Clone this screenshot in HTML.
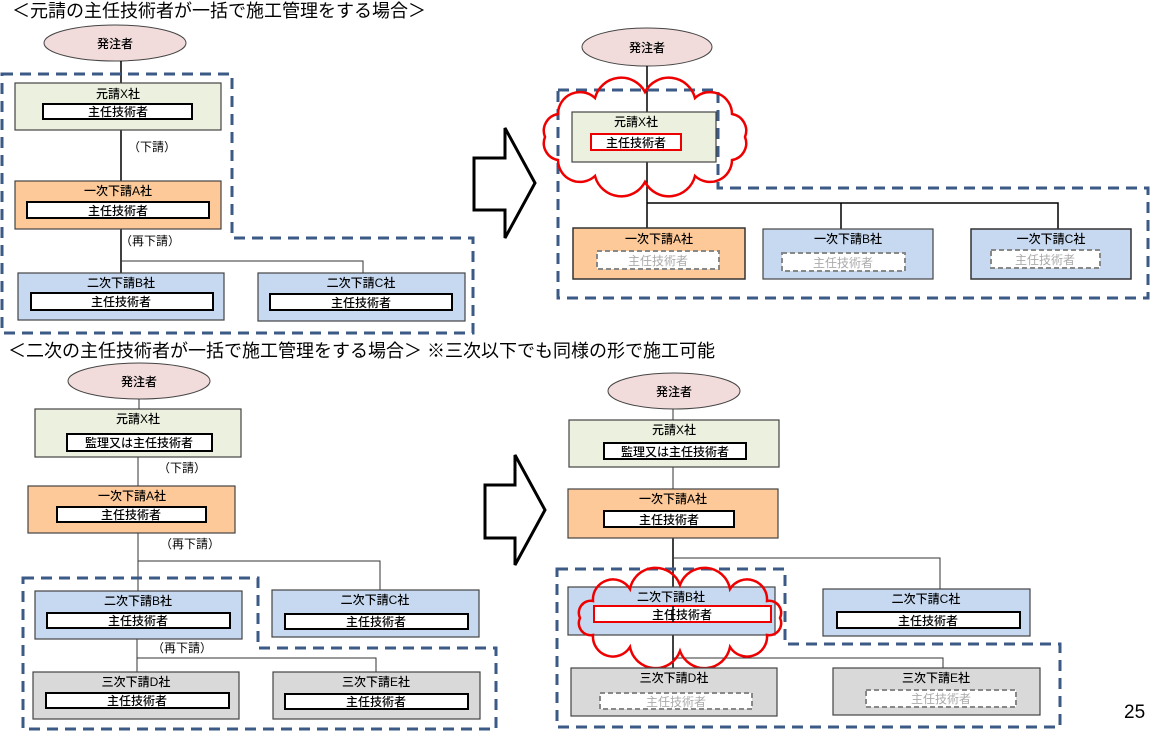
<!DOCTYPE html>
<html><head><meta charset="utf-8"><style>
body{margin:0;background:#fff}
svg{display:block}
text{font-family:"Liberation Sans","Noto Sans CJK JP",sans-serif;fill:#000}
.t{font-size:12px;text-anchor:middle;font-weight:500}
.h{font-size:18px}
.ln{stroke:#000;stroke-width:1.5;fill:none}
.ln2{stroke:#333;stroke-width:1;fill:none}
.dash{stroke:#3b5a86;stroke-width:3;stroke-dasharray:11 7;fill:none}
.bx{stroke:#444;stroke-width:1.2}
.in{fill:#fff;stroke:#000;stroke-width:2}
.gin{fill:#fff;stroke:#888;stroke-width:2;stroke-dasharray:5 3}
.gt{font-size:12px;text-anchor:middle;fill:#aaa}
.cl{fill:none;stroke:#e00;stroke-width:2.5}
</style></head><body>
<svg width="1152" height="738" viewBox="0 0 1152 738">
<!-- titles -->
<text x="12" y="17" class="h">＜元請の主任技術者が一括で施工管理をする場合＞</text>
<text x="8" y="357" class="h">＜二次の主任技術者が一括で施工管理をする場合＞ ※三次以下でも同様の形で施工可能</text>
<text x="1124" y="718" style="font-size:19px">25</text>

<!-- ===== Top-left ===== -->
<ellipse cx="115" cy="43" rx="71" ry="18" fill="#f2dcdb" stroke="#444"/>
<text x="115" y="48" class="t">発注者</text>
<path class="ln" d="M121 61V83M121 130V181M121 229V273"/>
<path class="ln2" d="M121 261H363V273"/>
<path class="dash" d="M2 74H232V238H473V333H2Z"/>
<rect x="15" y="83" width="206" height="47" fill="#ebf1de" class="bx"/>
<text x="118" y="98" class="t">元請X社</text>
<rect x="43" y="104" width="149" height="15" class="in"/><text x="118" y="116" class="t">主任技術者</text>
<text x="128" y="151" style="font-size:12px">（下請）</text>
<rect x="15" y="181" width="206" height="48" fill="#fdc998" class="bx"/>
<text x="118" y="195" class="t">一次下請A社</text>
<rect x="27" y="202" width="182" height="16" class="in"/><text x="118" y="215" class="t">主任技術者</text>
<text x="120" y="245" style="font-size:12px">（再下請）</text>
<rect x="18" y="273" width="206" height="47" fill="#c6d9f1" class="bx"/>
<text x="121" y="287" class="t">二次下請B社</text>
<rect x="31" y="293" width="182" height="17" class="in"/><text x="121" y="306" class="t">主任技術者</text>
<rect x="258" y="273" width="207" height="48" fill="#c6d9f1" class="bx"/>
<text x="361" y="287" class="t">二次下請C社</text>
<rect x="270" y="294" width="182" height="16" class="in"/><text x="361" y="307" class="t">主任技術者</text>

<!-- arrows -->
<path d="M474 158H505V128L535 183L505 238V210H474Z" fill="#fff" stroke="#000" stroke-width="3"/>
<path d="M485 485H515V455L545 510L515 565V538H485Z" fill="#fff" stroke="#000" stroke-width="3"/>

<!-- ===== Top-right ===== -->
<ellipse cx="647" cy="47" rx="65" ry="19" fill="#f2dcdb" stroke="#444"/>
<text x="647" y="52" class="t">発注者</text>
<path class="ln" d="M647 66V112M647 162V228"/>
<path class="ln" d="M647 203H1058V229M841 203V229"/>
<path class="dash" d="M558 90H718V188H1148V298H558Z"/>
<rect x="572" y="112" width="144" height="50" fill="#ebf1de" class="bx"/>
<text x="636" y="126" class="t">元請X社</text>
<rect x="591" y="134" width="90" height="16" fill="#fff" stroke="#e00" stroke-width="2"/><text x="636" y="147" class="t">主任技術者</text>
<path class="cl" d="M745 137A17 17 0 0 1 732 160A22 22 0 0 1 695 176A27 27 0 0 1 645 182A27 27 0 0 1 595 176A22 22 0 0 1 558 160A17 17 0 0 1 545 137A17 17 0 0 1 558 114A22 22 0 0 1 595 98A27 27 0 0 1 645 92A27 27 0 0 1 695 98A22 22 0 0 1 732 114A17 17 0 0 1 745 137Z"/>
<rect x="573" y="228" width="172" height="51" fill="#fdc998" stroke="#333" stroke-width="1.5"/>
<text x="659" y="243" class="t">一次下請A社</text>
<rect x="597" y="251" width="122" height="18" class="gin"/><text x="658" y="265" class="gt">主任技術者</text>
<rect x="763" y="229" width="170" height="50" fill="#c6d9f1" class="bx"/>
<text x="848" y="243" class="t">一次下請B社</text>
<rect x="782" y="253" width="123" height="18" class="gin"/><text x="843" y="267" class="gt">主任技術者</text>
<rect x="971" y="229" width="160" height="50" fill="#c6d9f1" stroke="#333" stroke-width="1.5"/>
<text x="1051" y="243" class="t">一次下請C社</text>
<rect x="991" y="250" width="109" height="18" class="gin"/><text x="1045" y="264" class="gt">主任技術者</text>

<!-- ===== Bottom-left ===== -->
<ellipse cx="139" cy="381" rx="71" ry="18" fill="#f2dcdb" stroke="#444"/>
<text x="139" y="386" class="t">発注者</text>
<path class="ln2" d="M139 399V409M138 457V486M138 533V591M137 639V672"/>
<path class="ln2" d="M138 561H380V590M137 658H376V672"/>
<path class="dash" d="M23 578H258V648H496V729H23Z"/>
<rect x="35" y="409" width="206" height="48" fill="#ebf1de" class="bx"/>
<text x="138" y="423" class="t">元請X社</text>
<rect x="67" y="434" width="145" height="17" class="in"/><text x="139" y="447" class="t">監理又は主任技術者</text>
<text x="158" y="472" style="font-size:12px">（下請）</text>
<rect x="28" y="486" width="207" height="47" fill="#fdc998" class="bx"/>
<text x="132" y="500" class="t">一次下請A社</text>
<rect x="57" y="507" width="149" height="15" class="in"/><text x="131" y="519" class="t">主任技術者</text>
<text x="160" y="548" style="font-size:12px">（再下請）</text>
<rect x="35" y="591" width="207" height="48" fill="#c6d9f1" class="bx"/>
<text x="138" y="605" class="t">二次下請B社</text>
<rect x="47" y="613" width="183" height="15" class="in"/><text x="138" y="625" class="t">主任技術者</text>
<rect x="272" y="590" width="207" height="47" fill="#c6d9f1" class="bx"/>
<text x="375" y="604" class="t">二次下請C社</text>
<rect x="285" y="614" width="183" height="15" class="in"/><text x="376" y="626" class="t">主任技術者</text>
<text x="152" y="652" style="font-size:12px">（再下請）</text>
<rect x="33" y="672" width="206" height="47" fill="#d9d9d9" class="bx"/>
<text x="136" y="686" class="t">三次下請D社</text>
<rect x="46" y="693" width="183" height="15" class="in"/><text x="137" y="705" class="t">主任技術者</text>
<rect x="273" y="672" width="207" height="47" fill="#d9d9d9" class="bx"/>
<text x="376" y="686" class="t">三次下請E社</text>
<rect x="285" y="694" width="183" height="15" class="in"/><text x="376" y="706" class="t">主任技術者</text>

<!-- ===== Bottom-right ===== -->
<ellipse cx="674" cy="391" rx="66" ry="18" fill="#f2dcdb" stroke="#444"/>
<text x="674" y="396" class="t">発注者</text>
<path class="ln2" d="M673 409V420M673 467V489"/>
<path class="ln" d="M673 538V668"/>
<path class="ln2" d="M673 558H940V589M673 658H943V668"/>
<path class="dash" d="M557 569H785V644H1060V727H557Z"/>
<rect x="569" y="420" width="210" height="47" fill="#ebf1de" class="bx"/>
<text x="674" y="434" class="t">元請X社</text>
<rect x="604" y="443" width="142" height="16" class="in"/><text x="675" y="456" class="t">監理又は主任技術者</text>
<rect x="568" y="489" width="210" height="49" fill="#fdc998" class="bx"/>
<text x="673" y="503" class="t">一次下請A社</text>
<rect x="604" y="511" width="130" height="16" class="in"/><text x="669" y="524" class="t">主任技術者</text>
<rect x="568" y="587" width="207" height="48" fill="#c6d9f1" class="bx"/>
<text x="671" y="601" class="t">二次下請B社</text>
<rect x="594" y="606" width="177" height="16" fill="#fff" stroke="#e00" stroke-width="2"/><text x="682" y="619" class="t">主任技術者</text>
<path class="ln" d="M673 606V622"/>
<path class="cl" d="M780 618A12 12 0 0 1 767 635A20 20 0 0 1 730 647A26 26 0 0 1 680 651A26 26 0 0 1 630 647A20 20 0 0 1 593 635A12 12 0 0 1 580 618A12 12 0 0 1 593 601A20 20 0 0 1 630 589A26 26 0 0 1 680 585A26 26 0 0 1 730 589A20 20 0 0 1 767 601A12 12 0 0 1 780 618Z"/>
<rect x="823" y="589" width="207" height="47" fill="#c6d9f1" class="bx"/>
<text x="926" y="603" class="t">二次下請C社</text>
<rect x="837" y="612" width="183" height="16" class="in"/><text x="928" y="625" class="t">主任技術者</text>
<rect x="571" y="668" width="206" height="48" fill="#d9d9d9" class="bx"/>
<text x="674" y="682" class="t">三次下請D社</text>
<rect x="600" y="693" width="152" height="16" class="gin"/><text x="676" y="706" class="gt">主任技術者</text>
<rect x="833" y="668" width="207" height="47" fill="#d9d9d9" class="bx"/>
<text x="936" y="682" class="t">三次下請E社</text>
<rect x="866" y="690" width="150" height="17" class="gin"/><text x="941" y="703" class="gt">主任技術者</text>
</svg>
</body></html>
